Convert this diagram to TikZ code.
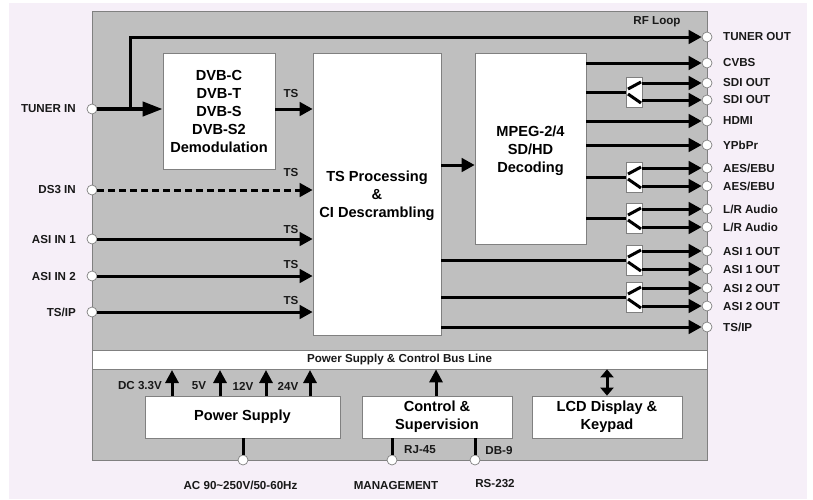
\documentclass[tikz,border=0pt]{standalone}
\usepackage{fontspec}
\setmainfont{Liberation Sans}
\usetikzlibrary{arrows.meta}
\tikzset{
  block/.style={draw=black!50,line width=0.7pt,fill=white,align=center,font=\fontsize{14.6}{18}\selectfont\bfseries,inner sep=0pt},
  blocktext/.style={align=center,font=\fontsize{14.6}{18}\selectfont\bfseries,inner sep=0pt},
  port/.style={circle,draw=black!50,line width=0.7pt,fill=white,minimum size=10pt,inner sep=0pt},
  plab/.style={font=\fontsize{11.6}{13}\selectfont\bfseries,text=black!90,inner sep=0pt},
  sig/.style={line width=3pt,draw=black,-{Triangle[length=13pt,width=13.5pt]}},
  sigb/.style={line width=3pt,draw=black,{Triangle[length=8pt,width=13pt]}-{Triangle[length=8pt,width=13pt]}},
  wire/.style={line width=3pt,draw=black},
  split/.style={draw=black!50,line width=0.7pt,fill=white,minimum width=16pt,inner sep=0pt},
  tick/.style={line width=3pt,draw=black}
}
\begin{document}
\begin{tikzpicture}[x=1pt,y=-1pt]
\useasboundingbox (0,0) rectangle (813,499);
\fill[white] (0,0) rectangle (813,499);
\fill[fill={rgb,255:red,246;green,239;blue,248}] (9,3) rectangle (807,499);
\draw[draw=black!50,line width=0.7pt,fill=black!25] (92,11) rectangle (707,460);
\node[draw=black!50,line width=0.7pt,fill=white,minimum width=615pt,minimum height=19pt,inner sep=0pt,plab] (bus) at (399.5,359.5) {Power Supply \& Control Bus Line};

\node[block,minimum width=112pt,minimum height=116pt] (dvb) at (219,111) {DVB-C\\DVB-T\\DVB-S\\DVB-S2\\Demodulation};
\node[block,minimum width=128pt,minimum height=282pt] (ts) at (377,194) {};
\node[block,minimum width=111pt,minimum height=191pt] (mpeg) at (530.5,148.5) {};
\node[blocktext] (tstext) at (377,196) {TS Processing\\\&\\CI Descrambling};
\node[blocktext] (mpegtext) at (530.5,151) {MPEG-2/4\\SD/HD\\Decoding};
\node[block,minimum width=195pt,minimum height=42pt] (psu) at (242.5,417) {Power Supply};
\node[block,minimum width=150pt,minimum height=42pt] (ctl) at (437,417) {Control \&\\Supervision};
\node[block,minimum width=150pt,minimum height=42pt] (lcd) at (607,417) {LCD Display \&\\Keypad};

% left ports
\foreach \n/\y/\t in {ptuner/109/{TUNER IN},pds/190/{DS3 IN},pasia/239/{ASI IN 1},pasib/276/{ASI IN 2},pip/312/{TS/IP}}{
  \node[port] (\n) at (92,\y) {};
  \node[plab,anchor=east] (\n l) at (76,\y) {\t};
}
% right ports
\foreach \n/\y/\t in {qtun/37/{TUNER OUT},qcv/63/{CVBS},qsa/83/{SDI OUT},qsb/100/{SDI OUT},qhd/121/{HDMI},qyp/145/{YPbPr},qaa/168/{AES/EBU},qab/186/{AES/EBU},qla/209/{L/R Audio},qlb/227/{L/R Audio},qia/251/{ASI 1 OUT},qib/269/{ASI 1 OUT},qja/288/{ASI 2 OUT},qjb/306/{ASI 2 OUT},qip/327/{TS/IP}}{
  \node[port] (\n) at (707,\y) {};
  \node[plab,anchor=west] (\n l) at (723,\y) {\t};
}
% bottom ports
\node[port] (bac) at (243,460) {};
\node[port] (brj) at (392,460) {};
\node[port] (bdb) at (475,460) {};

% splitters
\foreach \n/\y in {ssd/92,sae/177,slr/218,sia/260,sja/297}{
  \node[split,minimum height=30pt] (\n) at (634,\y) {};
  \draw[tick] (\n.center) ++(-6,-3) -- ++(13,-7);
  \draw[tick] (\n.center) ++(-6,2) -- ++(13,9);
}

% connectors
\coordinate (tk) at (130,109);
\draw[line width=4pt] (ptuner.east) -- (tk);
\draw[line width=4pt,draw=black,-{Triangle[length=20pt,width=14pt]}] (tk) -- (dvb.west |- tk);
\draw[sig] (tk) -- (tk |- qtun) -- (qtun.west);
\draw[sig] (dvb.east |- tk) -- (ts.west |- tk);
\draw[sig,dash pattern=on 7pt off 4pt] (pds.east) -- (ts.west |- pds);
\draw[sig] (pasia.east) -- (ts.west |- pasia);
\draw[sig] (pasib.east) -- (ts.west |- pasib);
\draw[sig] (pip.east) -- (ts.west |- pip);
\draw[sig] (ts.east |- 0,165) -- (mpeg.west |- 0,165);
\draw[sig] (mpeg.east |- qcv) -- (qcv.west);
\draw[sig] (mpeg.east |- qhd) -- (qhd.west);
\draw[sig] (mpeg.east |- qyp) -- (qyp.west);
\draw[sig] (ts.east |- qip) -- (qip.west);
\foreach \s/\a/\b in {ssd/qsa/qsb,sae/qaa/qab,slr/qla/qlb,sia/qia/qib,sja/qja/qjb}{
  \draw[sig] (\s.east |- \a) -- (\a.west);
  \draw[sig] (\s.east |- \b) -- (\b.west);
}
\draw[wire] (mpeg.east |- ssd) -- (ssd.west);
\draw[wire] (mpeg.east |- sae) -- (sae.west);
\draw[wire] (mpeg.east |- slr) -- (slr.west);
\draw[wire] (ts.east |- sia) -- (sia.west);
\draw[wire] (ts.east |- sja) -- (sja.west);

% bus arrows
\foreach \x in {172,220,266,310}{
  \draw[line width=3pt,draw=black,-{Triangle[length=13pt,width=13pt]}] (\x,396) -- (\x,370);
}
\draw[line width=3pt,draw=black,-{Triangle[length=13pt,width=13pt]}] (ctl.north -| 436,0) -- (bus.south -| 436,0);
\draw[sigb] (lcd.north) -- (bus.south -| lcd.north);
\draw[wire] (psu.south -| bac) -- (bac.north);
\draw[wire] (brj.north) -- (ctl.south -| brj);
\draw[wire] (bdb.north) -- (ctl.south -| bdb);

% labels
\node[plab] (lrf) at (657,22) {RF Loop};
\node[plab] (lt1) at (291,94) {TS};
\node[plab] (lt2) at (291,172) {TS};
\node[plab] (lt3) at (291,229) {TS};
\node[plab] (lt4) at (291,264) {TS};
\node[plab] (lt5) at (291,300) {TS};
\node[plab] (ld1) at (140,386) {DC 3.3V};
\node[plab] (ld2) at (199,386) {5V};
\node[plab] (ld3) at (243,386) {12V};
\node[plab] (ld4) at (288,386) {24V};
\node[plab] (lac) at (240.5,485) {AC 90\textasciitilde 250V/50-60Hz};
\node[plab] (lrj) at (420,450) {RJ-45};
\node[plab] (ldb) at (499,450) {DB-9};
\node[plab] (lmg) at (396,485) {MANAGEMENT};
\node[plab] (lrs) at (495,484) {RS-232};
\end{tikzpicture}
\end{document}
